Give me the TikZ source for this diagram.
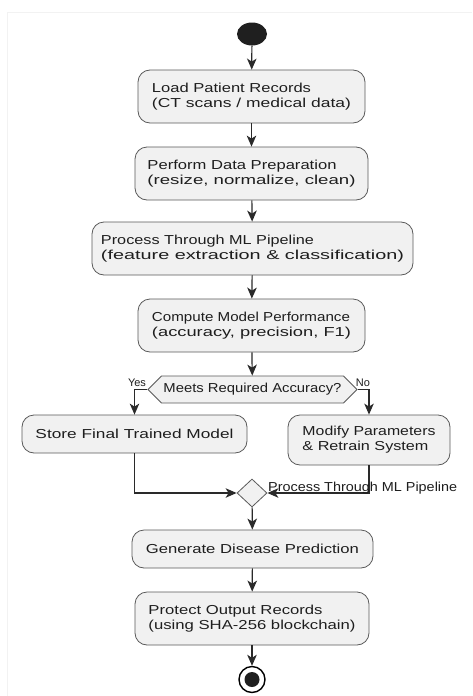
\documentclass[tikz,border=0pt]{standalone}
\usepackage{fontspec}
\setmainfont{Liberation Sans}
\usepackage{graphicx}
\usetikzlibrary{shapes.geometric,shapes.symbols,arrows.meta}
\newcommand{\fw}[2]{\resizebox{#1pt}{\height}{#2}}
\definecolor{boxfill}{HTML}{F1F1F1}
\definecolor{boxline}{HTML}{5A5A5A}
\definecolor{conn}{HTML}{2A2A2A}
\definecolor{frame}{HTML}{F2F2F2}
\definecolor{txt}{HTML}{1E1E1E}
\tikzset{
  act/.style={draw=boxline, fill=boxfill, line width=0.8pt, rounded corners=12pt,
    align=left, inner sep=0pt, font=\fontsize{13}{15}\selectfont, text=txt},
  hexa/.style={draw=boxline, fill=boxfill, line width=0.8pt, signal, signal to=west and east,
    signal pointer angle=90, inner sep=0pt, font=\fontsize{13}{15}\selectfont, text=txt},
  merge/.style={draw=boxline, fill=boxfill, line width=0.8pt, diamond, inner sep=0pt,
    minimum width=30pt, minimum height=28pt},
  arr/.style={draw=conn, line width=1.2pt, -{Stealth[length=11pt,width=9.5pt,inset=3pt]}},
  lbl/.style={font=\fontsize{11}{12}\selectfont, inner sep=0pt, text=txt},
}
\begin{document}
\begin{tikzpicture}[x=1pt,y=-1pt]
\useasboundingbox (0,0) rectangle (472,696);
\fill[white] (0,0) rectangle (472,696);
\draw[frame, line width=0.6pt] (7,696) -- (7,12) -- (472,12);

% start
\node[ellipse, fill=black!88, minimum width=30pt, minimum height=23pt, inner sep=0pt] (start) at (252,34) {};

\node[act, minimum width=227pt, minimum height=53pt] (b1) at (251.5,96.5)
  {\fw{159}{Load Patient Records}\\\fw{199}{(CT scans / medical data)}};
\node[act, minimum width=233pt, minimum height=53pt] (b2) at (251.5,173.5)
  {\fw{189}{Perform Data Preparation}\\\fw{208}{(resize, normalize, clean)}};
\node[act, minimum width=321pt, minimum height=53pt] (b3) at (252.5,248.5)
  {\fw{213}{Process Through ML Pipeline}\\\fw{303}{(feature extraction \& classification)}};
\node[act, minimum width=227pt, minimum height=53pt] (b4) at (251.5,325.5)
  {\fw{198}{Compute Model Performance}\\\fw{199}{(accuracy, precision, F1)}};

\node[hexa, minimum width=209pt, minimum height=27pt] (dec) at (252.5,389.5)
  {\fw{178}{Meets Required Accuracy?}};

\node[act, minimum width=225pt, minimum height=38pt] (store) at (134.5,434)
  {\fw{198}{Store Final Trained Model}};
\node[act, minimum width=162pt, minimum height=50pt] (modify) at (369,440)
  {\fw{133}{Modify Parameters}\\\fw{126}{\& Retrain System}};

\node[merge] (mg) at (252,493) {};

\node[act, minimum width=241pt, minimum height=38pt] (gen) at (252.5,549)
  {\fw{213}{Generate Disease Prediction}};
\node[act, minimum width=234pt, minimum height=53pt] (prot) at (252,618.5)
  {\fw{174}{Protect Output Records}\\\fw{207}{(using SHA-256 blockchain)}};

% end
\node[circle, draw=black, line width=1.4pt, fill=white, minimum size=26pt, inner sep=0pt] (end) at (252,679.5) {};
\node[circle, fill=black!88, minimum size=15pt, inner sep=0pt] (endin) at (end.center) {};

% connectors
\draw[arr] (start) -- (b1);
\draw[arr] (b1) -- (b2);
\draw[arr] (b2) -- (b3);
\draw[arr] (b3) -- (b4);
\draw[arr] (b4) -- (dec);
\draw[arr] (dec.west) -| (store.north);
\draw[arr] (dec.east) -| (modify.north);
\draw[arr] (store.south) |- (mg.west);
\draw[arr] (modify.south) |- (mg.east);
\draw[arr] (mg) -- (gen);
\draw[arr] (gen) -- (prot);
\draw[arr] (prot) -- (end);

% labels
\node[lbl] (yes) at (137,383) {Yes};
\node[lbl] (no) at (363,383) {No};
\node[anchor=west, inner sep=0pt, font=\fontsize{13}{15}\selectfont, text=txt] (pl) at (268,488)
  {\fw{189}{Process Through ML Pipeline}};
\end{tikzpicture}
\end{document}
